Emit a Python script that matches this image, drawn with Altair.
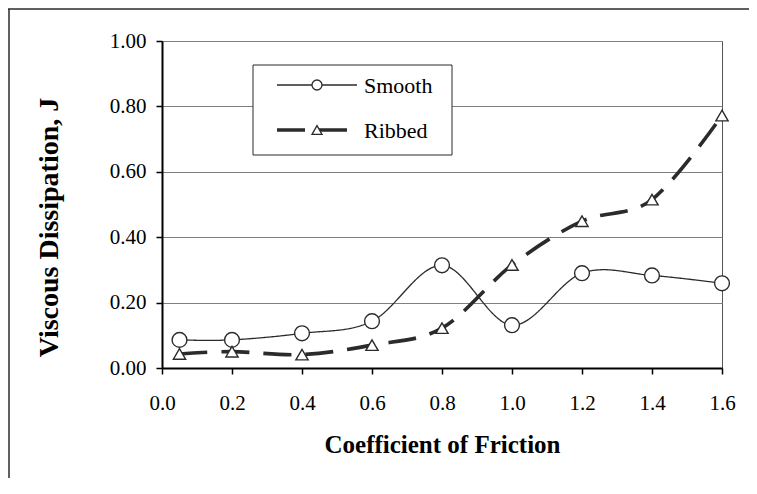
import altair as alt
import pandas as pd

# ---- data ----
friction = [0.05, 0.2, 0.4, 0.6, 0.8, 1.0, 1.2, 1.4, 1.6]
smooth = [0.086, 0.086, 0.106, 0.143, 0.314, 0.131, 0.290, 0.283, 0.259]
ribbed = [0.043, 0.050, 0.041, 0.070, 0.122, 0.315, 0.449, 0.515, 0.772]
series_names = ["Smooth", "Ribbed"]
x_ticks = [0.0, 0.2, 0.4, 0.6, 0.8, 1.0, 1.2, 1.4, 1.6]
y_ticks = [0.0, 0.2, 0.4, 0.6, 0.8, 1.0]

rows = []
for name, vals in zip(series_names, [smooth, ribbed]):
    for f, v in zip(friction, vals):
        rows.append({"friction": f, "dissipation": v, "series": name})
df = pd.DataFrame(rows)
legend_df = pd.DataFrame({"series": series_names})

FONT = "Liberation Serif"
INK = "#2b2b2b"

x_enc = alt.X(
    "friction:Q",
    scale=alt.Scale(domain=[0, 1.6], nice=False, zero=False),
    axis=alt.Axis(
        values=x_ticks, format=".1f", title="Coefficient of Friction", grid=False,
        domainColor="black", domainWidth=2, tickColor="black", tickWidth=1.5, tickSize=6,
        labelFont=FONT, labelFontSize=21, labelColor="black", labelPadding=18,
        labelFlush=False, labelOverlap=False,
        titleFont=FONT, titleFontSize=25, titleFontWeight="bold", titleColor="black",
        titleX=280, titleY=84, titleAlign="center", titleBaseline="alphabetic",
    ),
)
y_scale = alt.Scale(domain=[0, 1], nice=False)
y_enc = alt.Y(
    "dissipation:Q",
    scale=y_scale,
    axis=alt.Axis(
        values=y_ticks, format=".2f", title="Viscous Dissipation, J", grid=True,
        gridColor="#808080", gridWidth=1,
        domainColor="black", domainWidth=2, tickColor="black", tickWidth=1.5, tickSize=6,
        labelFont=FONT, labelFontSize=21, labelColor="black", labelPadding=10,
        titleFont=FONT, titleFontSize=28, titleFontWeight="bold", titleColor="black",
        titleAngle=270, titleX=-105, titleY=186, titleAlign="center", titleBaseline="alphabetic",
    ),
)
y_plain = alt.Y("dissipation:Q", scale=y_scale, axis=None)

dash_scale = alt.Scale(domain=series_names, range=[[1, 0], [28, 14]])
width_scale = alt.Scale(domain=series_names, range=[1.3, 3.6])
shape_scale = alt.Scale(domain=series_names, range=["circle", "triangle-up"])
size_scale = alt.Scale(domain=series_names, range=[220, 150])

# legend rows: placed by a point scale inside the key box
legend_y = alt.Y(
    "series:N",
    scale=alt.Scale(type="point", domain=series_names, range=[44, 89], padding=0),
    axis=None,
)

one = pd.DataFrame({"k": [0]})
legend_box = alt.Chart(one).mark_rect(fill="white", stroke=INK, strokeWidth=1).encode(
    x=alt.value(91), x2=alt.value(290), y=alt.value(24), y2=alt.value(114)
)
frame_top = alt.Chart(one).mark_rule(color=INK, strokeWidth=1.5).encode(
    x=alt.value(-154), x2=alt.value(587), y=alt.value(-32)
)
frame_left = alt.Chart(one).mark_rule(color=INK, strokeWidth=1.5).encode(
    x=alt.value(-153), y=alt.value(-32), y2=alt.value(437)
)

lines = alt.Chart(df).mark_line(interpolate="cardinal", color=INK).encode(
    x=x_enc,
    y=y_enc,
    strokeDash=alt.StrokeDash("series:N", scale=dash_scale, legend=None),
    strokeWidth=alt.StrokeWidth("series:N", scale=width_scale, legend=None),
)

pts = alt.Chart(df).mark_point(
    filled=False, fill="white", fillOpacity=1, color=INK, strokeWidth=1.4, opacity=1
).encode(
    x=x_enc, y=y_plain,
    shape=alt.Shape("series:N", scale=shape_scale, legend=None),
    size=alt.Size("series:O", scale=size_scale, legend=None),
)

key_lines = alt.Chart(legend_df).mark_rule(color=INK).encode(
    x=alt.value(115), x2=alt.value(195), y=legend_y,
    strokeDash=alt.StrokeDash("series:N", scale=dash_scale, legend=None),
    strokeWidth=alt.StrokeWidth("series:N", scale=width_scale, legend=None),
)
key_marks = alt.Chart(legend_df).mark_point(
    filled=False, fill="white", fillOpacity=1, color=INK, strokeWidth=1.3, size=100, opacity=1
).encode(
    x=alt.value(155), y=legend_y,
    shape=alt.Shape("series:N", scale=shape_scale, legend=None),
)
key_text = alt.Chart(legend_df).mark_text(
    align="left", baseline="middle", font=FONT, fontSize=22, color="black", dy=1
).encode(x=alt.value(202), y=legend_y, text="series:N")

chart = alt.layer(
    frame_top, frame_left, legend_box, lines, pts, key_lines, key_marks, key_text
).resolve_scale(
    y="independent"
).properties(
    width=560,
    height=327,
    autosize=alt.AutoSizeParams(type="none"),
    padding={"left": 154, "top": 33, "right": 27, "bottom": 110},
    background="white",
).configure_view(
    stroke="#555555", strokeWidth=1
).configure_axis(
    labelFont=FONT, titleFont=FONT
)

chart.save("out.html", embed_options={"renderer": "svg", "actions": False})
